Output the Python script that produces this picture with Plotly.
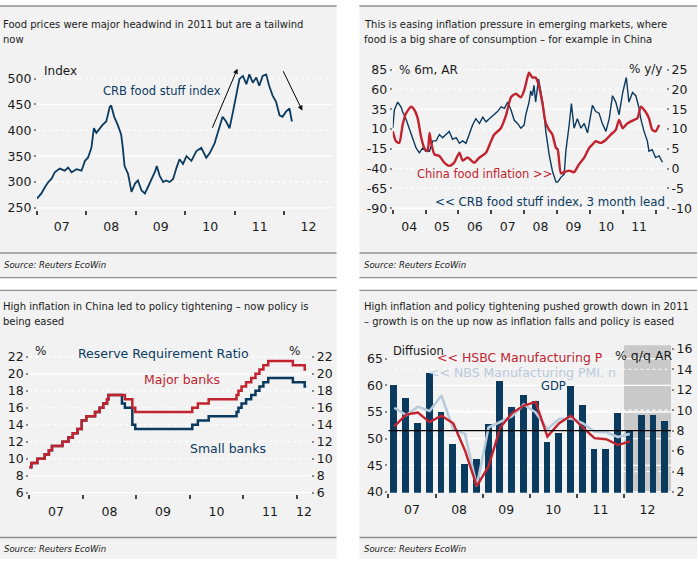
import plotly.graph_objects as go
from datetime import date

W, H = 698, 566
def px(x): return x / W
def py(y): return 1 - y / H

NAVY = "#0b3a5f"
RED = "#c1232f"
LIGHT = "#b9cadb"
BG = "#f2f2f2"
SEP = "#8f8f8f"
FONT = "DejaVu Sans"
TXT = "#1a1a1a"

# ---------------- Panel 1: CRB food stuff index ----------------
crb_t = [2007.00, 2007.09, 2007.16, 2007.23, 2007.30, 2007.36, 2007.46, 2007.56, 2007.63, 2007.70,
         2007.80, 2007.90, 2007.97, 2008.03, 2008.10, 2008.15, 2008.20, 2008.27, 2008.33, 2008.40,
         2008.47, 2008.50, 2008.56, 2008.63, 2008.70, 2008.73, 2008.77, 2008.84, 2008.91, 2008.98,
         2009.04, 2009.11, 2009.18, 2009.24, 2009.31, 2009.38, 2009.42, 2009.48, 2009.55, 2009.61,
         2009.68, 2009.75, 2009.82, 2009.88, 2009.95, 2010.02, 2010.12, 2010.22, 2010.32, 2010.42,
         2010.49, 2010.59, 2010.62, 2010.69, 2010.75, 2010.82, 2010.89, 2010.96, 2011.03, 2011.09,
         2011.16, 2011.23, 2011.29, 2011.36, 2011.43, 2011.49, 2011.56, 2011.63, 2011.69, 2011.76,
         2011.83, 2011.90, 2011.96, 2012.03, 2012.10, 2012.15]
crb_v = [268, 278, 290, 300, 307, 319, 326, 322, 328, 319,
         325, 322, 341, 347, 366, 404, 395, 404, 411, 417,
         445, 448, 426, 411, 392, 370, 331, 316, 281, 297,
         303, 284, 278, 290, 303, 319, 331, 312, 300, 303,
         300, 306, 328, 344, 335, 350, 341, 360, 366, 347,
         356, 375, 385, 410, 426, 417, 404, 436, 467, 499,
         505, 489, 508, 492, 502, 486, 505, 508, 486, 467,
         455, 429, 426, 436, 442, 417]
p1_yticks = [250, 300, 350, 400, 450, 500]
p1_years = [2007, 2008, 2009, 2010, 2011, 2012]
p1_labels = ["07", "08", "09", "10", "11", "12"]

# ---------------- Panel 2: CRB 6m AR (3m lead) & China food inflation ----------------
crb6_t = [2004.00, 2004.05, 2004.15, 2004.25, 2004.30, 2004.40, 2004.50, 2004.60, 2004.71, 2004.81,
          2004.91, 2005.01, 2005.12, 2005.22, 2005.32, 2005.42, 2005.52, 2005.62, 2005.72, 2005.82,
          2005.93, 2006.03, 2006.13, 2006.23, 2006.33, 2006.43, 2006.53, 2006.64, 2006.74, 2006.84,
          2006.94, 2007.04, 2007.19, 2007.30, 2007.40, 2007.50, 2007.60, 2007.70, 2007.80, 2007.90,
          2008.00, 2008.05, 2008.15, 2008.20, 2008.25, 2008.30, 2008.35, 2008.44, 2008.51, 2008.58,
          2008.66, 2008.76, 2008.86, 2008.91, 2008.97, 2009.02, 2009.12, 2009.22, 2009.27, 2009.37,
          2009.44, 2009.52, 2009.62, 2009.73, 2009.83, 2009.93, 2010.03, 2010.08, 2010.18, 2010.28,
          2010.38, 2010.49, 2010.59, 2010.69, 2010.79, 2010.89, 2011.00, 2011.07, 2011.11, 2011.19,
          2011.30, 2011.40, 2011.50, 2011.55, 2011.65, 2011.75, 2011.80, 2011.90, 2012.00, 2012.11,
          2012.21]
crb6_v = [11, 34, 44, 38, 32, 23, 11, -1, -14, -20,
          -14, -18, -18, -5, -5, 3, -1, 3, 7, -3,
          -1, -8, -5, -8, 3, 15, 23, 17, 25, 19,
          23, 27, 32, 38, 36, 44, 34, 21, 17, 11,
          15, 28, 44, 58, 52, 65, 44, 73, 56, 40,
          7, -22, -43, -49, -57, -57, -51, -47, -18, 15,
          42, 11, 23, 11, 17, 5, 28, 40, 32, 30,
          17, 7, 23, 52, 44, 28, 56, 69, 75, 44,
          56, 52, 36, 23, 7, -5, -18, -16, -26, -24,
          -32]
cfi_t = [2004.00, 2004.10, 2004.20, 2004.30, 2004.40, 2004.56, 2004.66, 2004.76, 2004.86, 2004.96,
         2005.06, 2005.12, 2005.17, 2005.27, 2005.42, 2005.57, 2005.72, 2005.87, 2006.03, 2006.13,
         2006.28, 2006.48, 2006.64, 2006.84, 2006.99, 2007.09, 2007.29, 2007.45, 2007.60, 2007.75,
         2007.90, 2008.00, 2008.10, 2008.15, 2008.25, 2008.35, 2008.45, 2008.55, 2008.66, 2008.76,
         2008.86, 2008.97, 2009.02, 2009.12, 2009.22, 2009.37, 2009.52, 2009.67, 2009.83, 2009.98,
         2010.08, 2010.18, 2010.33, 2010.49, 2010.64, 2010.79, 2010.89, 2011.00, 2011.14, 2011.35,
         2011.45, 2011.55, 2011.70, 2011.80, 2011.90, 2012.00, 2012.11]
cfi_v = [9.4, 6.9, 6.5, 11.0, 13.9, 15.6, 14.8, 12.7, 8.1, 5.2,
         4.4, 9.0, 6.5, 3.6, 3.2, 1.5, 0.7, 1.5, 4.0, 2.0,
         2.8, 1.5, 2.8, 4.0, 6.9, 8.6, 10.2, 13.5, 18.0, 18.9,
         18.0, 19.7, 23.0, 24.2, 23.0, 23.0, 20.9, 16.8, 11.4, 9.8,
         8.6, 5.2, 4.9, -1.2, -0.9, -0.5, -0.9, 1.1, 2.8, 5.2,
         6.1, 6.9, 6.5, 7.3, 8.6, 9.8, 12.3, 10.2, 11.4, 12.3,
         12.7, 15.6, 14.3, 12.7, 9.8, 9.4, 11.0]
p2_lticks = [-90, -65, -40, -15, 10, 35, 60, 85]
p2_rticks = [-10, -5, 0, 5, 10, 15, 20, 25]
p2_years = [2004, 2005, 2006, 2007, 2008, 2009, 2010, 2011, 2012]
p2_labels = ["04", "05", "06", "07", "08", "09", "10", "11"]

# ---------------- Panel 3: Reserve requirement ratio ----------------
major_d = ["2007-01-01", "2007-01-15", "2007-02-25", "2007-04-16", "2007-05-15", "2007-06-05",
           "2007-08-15", "2007-09-25", "2007-10-25", "2007-11-26", "2007-12-25", "2008-01-25",
           "2008-03-25", "2008-04-25", "2008-05-20", "2008-06-15", "2008-06-25", "2008-10-15",
           "2008-12-05", "2008-12-25", "2010-01-18", "2010-02-25", "2010-05-10", "2010-11-16",
           "2010-11-29", "2010-12-20", "2011-01-20", "2011-02-24", "2011-03-25", "2011-04-21",
           "2011-05-18", "2011-06-20", "2011-12-05", "2012-02-24", "2012-03-05"]
major_v = [9.0, 9.5, 10.0, 10.5, 11.0, 11.5, 12.0, 12.5, 13.0, 13.5, 14.5, 15.0,
           15.5, 16.0, 16.5, 17.0, 17.5, 17.0, 16.0, 15.5, 16.0, 16.5, 17.0, 17.5,
           18.0, 18.5, 19.0, 19.5, 20.0, 20.5, 21.0, 21.5, 21.0, 20.5, 20.5]
small_d = ["2007-01-01", "2007-01-15", "2007-02-25", "2007-04-16", "2007-05-15", "2007-06-05",
           "2007-08-15", "2007-09-25", "2007-10-25", "2007-11-26", "2007-12-25", "2008-01-25",
           "2008-03-25", "2008-04-25", "2008-05-20", "2008-06-15", "2008-06-25", "2008-09-25",
           "2008-10-15", "2008-12-05", "2008-12-25", "2010-01-18", "2010-02-25", "2010-05-10",
           "2010-11-16", "2010-11-29", "2010-12-20", "2011-01-20", "2011-02-24", "2011-03-25",
           "2011-04-21", "2011-05-18", "2011-06-20", "2011-12-05", "2012-02-24", "2012-03-05"]
small_v = [9.0, 9.5, 10.0, 10.5, 11.0, 11.5, 12.0, 12.5, 13.0, 13.5, 14.5, 15.0,
           15.5, 16.0, 16.5, 17.0, 17.5, 16.5, 16.0, 14.0, 13.5, 14.0, 14.5, 15.0,
           15.5, 16.0, 16.5, 17.0, 17.5, 18.0, 18.5, 19.0, 19.5, 19.0, 18.5, 18.5]
p3_yticks = [6, 8, 10, 12, 14, 16, 18, 20, 22]
p3_years = [2007, 2008, 2009, 2010, 2011, 2012]
p3_labels = ["07", "08", "09", "10", "11", "12"]

# ---------------- Panel 4: PMIs and GDP ----------------
quarters = ["2007Q1", "2007Q2", "2007Q3", "2007Q4", "2008Q1", "2008Q2", "2008Q3", "2008Q4",
            "2009Q1", "2009Q2", "2009Q3", "2009Q4", "2010Q1", "2010Q2", "2010Q3", "2010Q4",
            "2011Q1", "2011Q2", "2011Q3", "2011Q4", "2012Q1", "2012Q2", "2012Q3", "2012Q4"]
gdp = [12.4, 11.15, 8.75, 13.6, 9.8, 6.7, 4.7, 5.2, 8.65, 12.8, 10.3, 11.5,
       10.9, 6.9, 7.7, 12.3, 10.5, 6.2, 6.2, 9.7, 8.0, 9.55, 9.55, 8.95]
nbs = [55.8, 54.4, 56.0, 55.2, 58.1, 51.8, 50.9, 41.1, 52.1, 53.2, 54.2, 56.4,
       54.9, 51.8, 53.7, 53.8, 52.9, 51.3, 51.2, 50.3, 50.9]
hsbc = [52.3, 54.5, 54.9, 53.1, 54.3, 52.9, 47.8, 41.1, 44.8, 52.1, 54.8, 56.2,
        56.9, 50.4, 52.9, 54.3, 52.1, 50.1, 49.9, 48.8, 49.5]
gdp_target = 8
p4_lticks = [40, 45, 50, 55, 60, 65]
p4_rticks = [2, 4, 6, 8, 10, 12, 14, 16]
p4_years = [2007, 2008, 2009, 2010, 2011, 2012]
p4_labels = ["07", "08", "09", "10", "11", "12"]
forecast_start, forecast_end = 2012, 2013


def dec_year(s):
    d = date.fromisoformat(s)
    s0, s1 = date(d.year, 1, 1), date(d.year + 1, 1, 1)
    return d.year + (d - s0).days / (s1 - s0).days


def q_mid(q):
    return int(q[:4]) + (int(q[-1]) - 0.5) / 4


def mids(years, labels, xmax):
    return [(y + min(y + 1, xmax)) / 2 for y in years[:len(labels)]]


fig = go.Figure()

# traces
fig.add_trace(go.Scatter(x=crb_t, y=crb_v, mode="lines", line=dict(color=NAVY, width=1.8),
                         xaxis="x", yaxis="y", showlegend=False))
fig.add_trace(go.Scatter(x=crb6_t, y=crb6_v, mode="lines", line=dict(color=NAVY, width=1.4),
                         xaxis="x2", yaxis="y2", showlegend=False))
fig.add_trace(go.Scatter(x=cfi_t, y=cfi_v, mode="lines", line=dict(color=RED, width=2.4, shape="spline", smoothing=0.6),
                         xaxis="x2", yaxis="y3", showlegend=False))
fig.add_trace(go.Scatter(x=[dec_year(d) for d in small_d], y=small_v, mode="lines",
                         line=dict(color=NAVY, width=2.5, shape="hv"),
                         xaxis="x3", yaxis="y4", showlegend=False))
fig.add_trace(go.Scatter(x=[dec_year(d) for d in major_d], y=major_v, mode="lines",
                         line=dict(color=RED, width=2.5, shape="hv"),
                         xaxis="x3", yaxis="y5", showlegend=False))
qx = [q_mid(q) for q in quarters]
fig.add_trace(go.Bar(x=qx, y=gdp, width=0.145, marker=dict(color=NAVY, line=dict(width=0)),
                     xaxis="x4", yaxis="y6", showlegend=False))
fig.add_trace(go.Scatter(x=qx[:len(nbs)], y=nbs, mode="lines", line=dict(color=LIGHT, width=2.6),
                         xaxis="x4", yaxis="y7", showlegend=False))
fig.add_trace(go.Scatter(x=qx[:len(hsbc)], y=hsbc, mode="lines", line=dict(color=RED, width=2.4),
                         xaxis="x4", yaxis="y7", showlegend=False))

tickfont = dict(family=FONT, size=12.5, color=TXT)


def xax(domain, rng, anchor, years, labels):
    return dict(domain=domain, range=rng, anchor=anchor, showgrid=False, zeroline=False,
                showline=False, tickmode="array", tickvals=mids(years, labels, rng[1]),
                ticktext=labels, ticks="", tickfont=tickfont, ticklabelstandoff=8,
                minor=dict(tickmode="array", tickvals=years, ticks="outside", ticklen=4,
                           tickwidth=1.5, tickcolor="#444444", showgrid=False),
                fixedrange=True)


def yax(domain, rng, anchor, ticks, side="left", overlay=None):
    d = dict(range=rng, anchor=anchor, showgrid=False, zeroline=False, showline=False,
             tickmode="array", tickvals=ticks, ticktext=[str(t) for t in ticks],
             ticks="outside", ticklen=2, tickwidth=1.5,
             tickcolor="#8a8a8a", tickfont=tickfont, side=side, fixedrange=True)
    if overlay:
        d["overlaying"] = overlay
    else:
        d["domain"] = domain
    return d


p1x = [2007, 2012.97]
p2x = [2004, 2012.32]
p3x = [2007, 2012.27]
p4x = [2007, 2013.0]

fig.update_layout(
    width=W, height=H, margin=dict(l=0, r=0, t=0, b=0),
    paper_bgcolor="white", plot_bgcolor="rgba(0,0,0,0)",
    font=dict(family=FONT, color=TXT),
    bargap=0,
    xaxis=xax([px(37), px(333)], p1x, "y", p1_years, p1_labels),
    yaxis=yax([py(210), py(60)], [246.2, 530.3], "x", p1_yticks),
    xaxis2=xax([px(393.3), px(667)], p2x, "y2", p2_years, p2_labels),
    yaxis2=yax([py(209.5), py(60)], [-91.5, 93.5], "x2", p2_lticks),
    yaxis3=yax(None, [-10.3, 26.7], "x2", p2_rticks, side="right", overlay="y2"),
    xaxis3=xax([px(29.3), px(311.7)], p3x, "y4", p3_years, p3_labels),
    yaxis4=yax([py(500), py(350)], [5.8, 23.14], "x3", p3_yticks),
    yaxis5=yax(None, [5.8, 23.14], "x3", p3_yticks, side="right", overlay="y4"),
    xaxis4=xax([px(389), px(672)], p4x, "y6", p4_years, p4_labels),
    yaxis6=yax([py(498.5), py(348)], [1.92, 16.35], "x4", p4_rticks, side="right"),
    yaxis7=yax(None, [39.85, 67.52], "x4", p4_lticks, side="left", overlay="y6"),
)

shapes = []
# panel backgrounds
for (x0, x1, y0, y1) in [(0, 337, 2, 279), (360, 698, 2, 279), (0, 337, 292, 566), (360, 698, 292, 566)]:
    shapes.append(dict(type="rect", xref="paper", yref="paper", x0=px(x0), x1=px(x1),
                       y0=py(y1), y1=py(y0), fillcolor=BG, line=dict(width=0), layer="below"))
# forecast shade
shapes.append(dict(type="rect", xref="x4", yref="y6 domain", x0=forecast_start, x1=forecast_end,
                   y0=0, y1=1, fillcolor="#c9c9c9", line=dict(width=0), layer="below"))


def grid(xa, ya, vals, solid):
    for v in vals:
        shapes.append(dict(type="line", xref=f"{xa} domain", yref=ya, x0=0, x1=1, y0=v, y1=v,
                           line=dict(color="white", width=1.3 if v in solid else 1.2,
                                     dash="solid" if v in solid else "dot"),
                           layer="below"))


grid("x", "y", p1_yticks, [250, 350, 450])
grid("x2", "y2", p2_lticks, [-90, -15, 35])
grid("x3", "y4", p3_yticks, [6, 8, 20])
grid("x4", "y7", p4_lticks, p4_lticks)
grid("x4", "y6", [4, 8, 10, 14], [])

# GDP target line
shapes.append(dict(type="line", xref="x4 domain", yref="y6", x0=0, x1=1, y0=gdp_target, y1=gdp_target,
                   line=dict(color="black", width=1.2), layer="above"))

# separators
for (x0, x1) in [(0, 337), (360, 698)]:
    for y in [2, 254, 279, 292, 544]:
        shapes.append(dict(type="line", xref="paper", yref="paper", x0=px(x0), x1=px(x1),
                           y0=py(y), y1=py(y), line=dict(color=SEP, width=1.4)))
fig.update_layout(shapes=shapes)

ann = []


def text(x, y, s, size=12, color=TXT, xanchor="left", italic=False):
    ann.append(dict(x=px(x), y=py(y), xref="paper", yref="paper", text=s, showarrow=False,
                    xanchor=xanchor, yanchor="middle",
                    font=dict(family=FONT, size=size, color=color,
                              style="italic" if italic else "normal")))


TS = 10
# titles
text(1, 21, "Food prices were major headwind in 2011 but are a tailwind", TS)
text(1, 36, "now", TS)
text(363, 21, "This is easing inflation pressure in emerging markets, where", TS)
text(363, 36, "food is a big share of consumption – for example in China", TS)
text(1, 309, "High inflation in China led to policy tightening – now policy is", TS)
text(1, 324, "being eased", TS)
text(363, 309, "High inflation and policy tightening pushed growth down in 2011", TS)
text(363, 324, "– growth is on the up now as inflation falls and policy is eased", TS)
# sources
for (x, y) in [(2, 266), (363, 266), (2, 556), (363, 556)]:
    text(x, y, "Source: Reuters EcoWin", 8.5, italic=True)

# panel 1 labels
text(42, 68, "Index", 12)
text(162, 89, "CRB food stuff index", 11.5, NAVY, "center")
# panel 2 labels
text(398, 67, "% 6m, AR", 12)
text(665, 66, "% y/y", 12, xanchor="right")
text(485, 173, "China food inflation >>", 11.5, RED, "center")
text(551, 202, "<< CRB food stuff index, 3 month lead", 11.8, NAVY, "center")
# panel 3 labels
text(40.5, 354, "%", 12, xanchor="center")
text(295, 354, "%", 12, xanchor="center")
text(164, 356, "Reserve Requirement Ratio", 12.5, NAVY, "center")
text(182.5, 383, "Major banks", 12.5, RED, "center")
text(228, 453, "Small banks", 12.5, NAVY, "center")
# panel 4 labels
text(392, 354, "Diffusion", 11.5)
text(436, 361, "<< HSBC Manufacturing P", 12.5, RED)
text(428, 375.5, "<< NBS Manufacturing PMI. n", 12.5, LIGHT)
text(554, 389.5, "GDP", 11.5, NAVY, "center")
text(644, 358, "% q/q AR", 12.5, xanchor="center")

# arrows on panel 1
ann.append(dict(xref="x", yref="y", axref="x", ayref="y", x=2011.05, y=519, ax=2010.53, ay=402,
                text="", showarrow=True, arrowhead=2, arrowsize=1, arrowwidth=1, arrowcolor="black"))
ann.append(dict(xref="x", yref="y", axref="x", ayref="y", x=2012.36, y=438, ax=2011.96, ay=517,
                text="", showarrow=True, arrowhead=2, arrowsize=1, arrowwidth=1, arrowcolor="black"))
fig.update_layout(annotations=ann)

fig.write_html("out.html")
